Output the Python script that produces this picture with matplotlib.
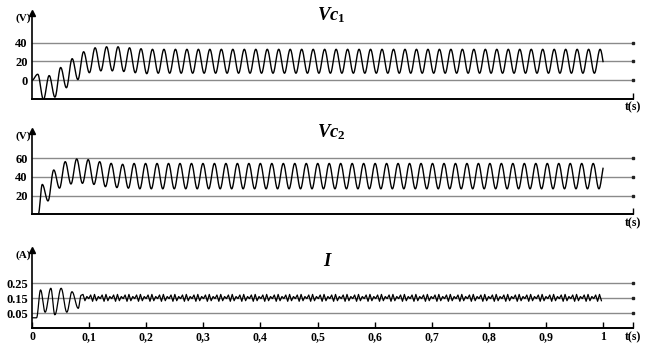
import numpy as np
import matplotlib
matplotlib.use("Agg")
import matplotlib.pyplot as plt

plt.rcParams['font.family'] = 'Liberation Serif'
plt.rcParams['font.weight'] = 'bold'
plt.rcParams['mathtext.fontset'] = 'custom'
plt.rcParams['mathtext.it'] = 'Liberation Serif:italic:bold'
plt.rcParams['mathtext.rm'] = 'Liberation Serif:bold'

# --- values ---
period = 0.0201          # s, oscillation period of the capacitor voltages
t_end = 1.0

# Vc1: starts at 0, then alternating peak / trough values (every half period)
vc1_start_t = [0.0]
vc1_start_v = [0.0]
vc1_first_peak = 0.010
vc1_transient = [6.4, -20.5, 5, -18, 13.6, -8, 23, 0.7, 30.4, 8, 34.6, 10,
                 35.7, 10, 35.7, 9.3, 34.6, 8, 33.6, 7, 33, 7.5]
vc1_steady = [33, 7.5]

# Vc2: flat at 0, then alternating peak / trough values
vc2_start_t = [0.0, 0.011]
vc2_start_v = [0.0, 0.0]
vc2_first_peak = 0.018
vc2_transient = [32, 14.3, 47.5, 28, 56.4, 32.5, 59.3, 33.2, 58.6, 32,
                 56.4, 29.6, 54.6, 28.6, 53.6, 28]
vc2_steady = [54.5, 27.3]

# I: start-up oscillation (times and values), then a steady ripple
i_trans_t = [0.0, 0.008, 0.015, 0.023, 0.033, 0.040, 0.051, 0.061, 0.070, 0.081, 0.086]
i_trans_v = [0.02, 0.02, 0.206, 0.057, 0.217, 0.04, 0.217, 0.057, 0.194, 0.083, 0.17]
i_ripple = [0.176, 0.134, 0.162, 0.148, 0.172, 0.13]  # one 0.02 s period
i_ripple_step = 0.00335

xticks = [0, 0.1, 0.2, 0.3, 0.4, 0.5, 0.6, 0.7, 0.8, 0.9, 1.0]
xticklabels = ['0', '0,1', '0,2', '0,3', '0,4', '0,5', '0,6', '0,7', '0,8', '0,9', '1']

vc1_yticks = [0, 20, 40]
vc2_yticks = [20, 40, 60]
i_yticks = [0.05, 0.15, 0.25]
i_yticklabels = ['0.05', '0.15', '0.25']

XMAX = 1.0525


def smooth_curve(knot_t, knot_v, n=16):
    """Half-cosine segments between consecutive extrema."""
    ts, vs = [], []
    for i in range(len(knot_t) - 1):
        s = np.linspace(0, 1, n, endpoint=False)
        ts.append(knot_t[i] + (knot_t[i + 1] - knot_t[i]) * s)
        vs.append(knot_v[i] + (knot_v[i + 1] - knot_v[i]) * (1 - np.cos(np.pi * s)) / 2)
    ts.append([knot_t[-1]])
    vs.append([knot_v[-1]])
    return np.concatenate(ts), np.concatenate(vs)


def build_voltage(start_t, start_v, first_peak, transient, steady):
    n_ext = int((t_end + period - first_peak) / (period / 2)) + 1
    values = list(transient)
    while len(values) < n_ext:
        values += steady
    values = values[:n_ext]
    times = [first_peak + k * period / 2 for k in range(n_ext)]
    t, v = smooth_curve(list(start_t) + times, list(start_v) + values)
    keep = t <= t_end
    v_end = np.interp(t_end, t, v)
    return np.append(t[keep], t_end), np.append(v[keep], v_end)


def build_current():
    t1, v1 = smooth_curve(i_trans_t, i_trans_v, n=10)
    n = int((t_end - i_trans_t[-1]) / i_ripple_step) + 1
    rv = [i_ripple[k % len(i_ripple)] for k in range(n)]
    rt = [i_trans_t[-1] + i_ripple_step * (k + 1) for k in range(n)]
    t = np.concatenate([t1, rt])
    v = np.concatenate([v1, rv])
    keep = t <= t_end
    return t[keep], v[keep]


def setup_axis(ax, ylim, yticks, ylabels, unit):
    ax.set_xlim(0, XMAX)
    ax.set_ylim(*ylim)
    for y in yticks:
        ax.plot([0, XMAX], [y, y], color='#8a8a8a', lw=1.0, zorder=1, clip_on=False)
        ax.plot([XMAX], [y], marker='s', ms=1.5, color='#222222', clip_on=False, zorder=2)
    ax.set_yticks(yticks)
    ax.set_yticklabels(ylabels, fontsize=9, fontweight='bold')
    ax.tick_params(axis='y', length=0, pad=3)
    ax.tick_params(axis='x', direction='in', length=4, width=1.0, pad=2, labelsize=8.5)
    for side in ['top', 'right']:
        ax.spines[side].set_visible(False)
    ax.spines['left'].set_linewidth(1.2)
    ax.spines['bottom'].set_linewidth(1.4)
    ax.plot(0, 1, marker='^', color='k', ms=4, transform=ax.transAxes, clip_on=False)
    ax.text(-0.002, 0.99, unit, transform=ax.transAxes, ha='right', va='top',
            fontsize=8, fontweight='bold')


fig = plt.figure(figsize=(6.57, 3.44), dpi=100)
W, H = 657.0, 344.0

def add_axes(top_px, bottom_px):
    return fig.add_axes([32 / W, 1 - bottom_px / H, (633 - 32) / W, (bottom_px - top_px) / H])

ax1 = add_axes(13, 99)
ax2 = add_axes(130.7, 214.3)
ax3 = add_axes(250, 328.3)

setup_axis(ax1, (-20, 71.7), vc1_yticks, [str(y) for y in vc1_yticks], '(V)')
setup_axis(ax2, (0, 89.6), vc2_yticks, [str(y) for y in vc2_yticks], '(V)')
setup_axis(ax3, (-0.05, 0.472), i_yticks, i_yticklabels, '(A)')

for ax in (ax1, ax2):
    ax.set_xticks([XMAX])
    ax.set_xticklabels(['t(s)'], fontweight='bold')
ax3.set_xticks(xticks + [XMAX])
ax3.set_xticklabels(xticklabels + ['t(s)'], fontweight='bold')

t, v = build_voltage(vc1_start_t, vc1_start_v, vc1_first_peak, vc1_transient, vc1_steady)
ax1.plot(t, v, color='k', lw=1.0, zorder=3)
t, v = build_voltage(vc2_start_t, vc2_start_v, vc2_first_peak, vc2_transient, vc2_steady)
ax2.plot(t, v, color='k', lw=1.0, zorder=3)
t, v = build_current()
ax3.plot(t, v, color='k', lw=0.9, zorder=3)

fig.text(331 / W, 1 - 15 / H, '$Vc_1$', ha='center', va='center', fontsize=13.5)
fig.text(331 / W, 1 - 132 / H, '$Vc_2$', ha='center', va='center', fontsize=13.5)
fig.text(328 / W, 1 - 262 / H, '$I$', ha='center', va='center', fontsize=13.5)

fig.savefig('out.png', dpi=100)
